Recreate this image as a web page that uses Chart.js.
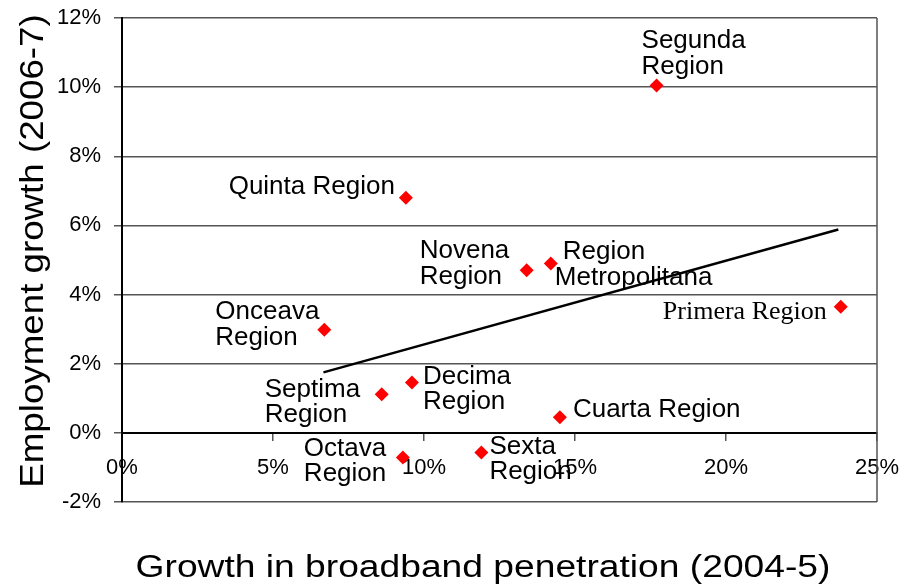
<!DOCTYPE html>
<html>
<head>
<meta charset="utf-8">
<script src="https://cdn.jsdelivr.net/npm/chart.js@4.4.0/dist/chart.umd.min.js"></script>
<style>
  html, body { margin: 0; padding: 0; background: #fff; }
</style>
</head>
<body>
<canvas id="chart" width="904" height="586"></canvas>
<script>
// values
const regionLabels = ['Segunda\nRegion', 'Quinta Region', 'Novena\nRegion', 'Region\nMetropolitana', 'Primera Region',
  'Onceava\nRegion', 'Septima\nRegion', 'Decima\nRegion', 'Octava\nRegion', 'Sexta\nRegion', 'Cuarta Region'];
const broadbandGrowth = [17.7, 9.4, 13.4, 14.2, 23.8, 6.7, 8.6, 9.6, 9.3, 11.9, 14.5];
const employmentGrowth = [10.05, 6.8, 4.7, 4.9, 3.65, 2.98, 1.12, 1.46, -0.71, -0.57, 0.45];
const trendX = [6.67, 23.72];
const trendY = [1.75, 5.88];
const xTickValues = [0, 5, 10, 15, 20, 25];
const yTickValues = [-2, 0, 2, 4, 6, 8, 10, 12];
const xTitle = 'Growth in broadband penetration (2004-5)';
const yTitle = 'Employment growth (2006-7)';

// where each label sits relative to its marker (px), one entry per line
const labelLayout = [
  { align: 'left', dx: [-15, -15], dy: [-37, -11] },
  { align: 'right', dx: [-11], dy: [-4] },
  { align: 'left', dx: [-107, -107], dy: [-12, 14] },
  { align: 'left', dx: [12, 4], dy: [-4, 22] },
  { align: 'right', dx: [-14], dy: [12], serif: true },
  { align: 'left', dx: [-109, -109], dy: [-11, 15] },
  { align: 'left', dx: [-117, -117], dy: [3, 28] },
  { align: 'left', dx: [11, 11], dy: [2, 27] },
  { align: 'left', dx: [-99, -99], dy: [-1, 24] },
  { align: 'left', dx: [8, 8], dy: [1, 26] },
  { align: 'left', dx: [13], dy: [0] },
];

const SANS = '"Liberation Sans", Arial, sans-serif';
const SERIF = '"Liberation Serif", "Times New Roman", serif';
Chart.defaults.font.family = SANS;
Chart.defaults.color = '#000';

const pointLabels = {
  id: 'pointLabels',
  beforeDatasetsDraw(chart) {
    const { ctx, scales: { x, y } } = chart;
    ctx.save();
    ctx.fillStyle = '#000';
    ctx.textBaseline = 'alphabetic';
    regionLabels.forEach((txt, i) => {
      const lay = labelLayout[i];
      const px = x.getPixelForValue(broadbandGrowth[i]);
      const py = y.getPixelForValue(employmentGrowth[i]);
      ctx.font = '26px ' + (lay.serif ? SERIF : SANS);
      ctx.textAlign = lay.align;
      txt.split('\n').forEach((line, j) => {
        ctx.fillText(line, px + lay.dx[j], py + lay.dy[j]);
      });
    });
    ctx.restore();
  },
  afterDraw(chart) {
    const { ctx, chartArea: a } = chart;
    ctx.save();
    // right side of the plot frame
    ctx.strokeStyle = '#555';
    ctx.lineWidth = 1.5;
    ctx.beginPath();
    ctx.moveTo(a.right, a.top);
    ctx.lineTo(a.right, a.bottom);
    ctx.stroke();

    // axis titles
    ctx.fillStyle = '#000';
    ctx.textAlign = 'center';
    ctx.textBaseline = 'alphabetic';
    ctx.save();
    ctx.translate(483, 577);
    ctx.scale(1.2, 1);
    ctx.font = '31px ' + SANS;
    ctx.fillText(xTitle, 0, 0);
    ctx.restore();

    ctx.save();
    ctx.translate(43, 251);
    ctx.rotate(-Math.PI / 2);
    ctx.scale(1.08, 1);
    ctx.font = '34px ' + SANS;
    ctx.fillText(yTitle, 0, 0);
    ctx.restore();
    ctx.restore();
  }
};

new Chart(document.getElementById('chart'), {
  type: 'scatter',
  data: {
    datasets: [
      {
        label: 'Regions',
        data: broadbandGrowth.map((v, i) => ({ x: v, y: employmentGrowth[i] })),
        pointStyle: 'rectRot',
        pointRadius: 7,
        backgroundColor: '#ff0000',
        borderColor: '#ff0000',
        borderWidth: 0,
      },
      {
        label: 'Trend',
        data: trendX.map((v, i) => ({ x: v, y: trendY[i] })),
        showLine: true,
        borderColor: '#000',
        borderWidth: 2.5,
        pointRadius: 0,
      },
    ],
  },
  options: {
    responsive: false,
    animation: false,
    layout: { padding: { left: 0, right: 27, top: 18, bottom: 84 } },
    plugins: { legend: { display: false }, tooltip: { enabled: false } },
    scales: {
      x: {
        type: 'linear',
        min: 0,
        max: 25,
        position: { y: 0 },
        afterBuildTicks: (s) => { s.ticks = xTickValues.map((v) => ({ value: v })); },
        afterFit: (s) => { s.paddingLeft = 0; s.paddingRight = 0; },
        ticks: { callback: (v) => v + '%', font: { size: 22 }, padding: 15, maxRotation: 0, autoSkip: false },
        grid: { drawOnChartArea: false, drawTicks: true, tickLength: 7, color: '#555', lineWidth: 1.5 },
        border: { display: true, color: '#000', width: 2 },
      },
      y: {
        type: 'linear',
        min: -2,
        max: 12,
        afterBuildTicks: (s) => { s.ticks = yTickValues.map((v) => ({ value: v })); },
        afterFit: (s) => { s.width = 122; s.paddingTop = 0; s.paddingBottom = 0; },
        ticks: { callback: (v) => v + '%', font: { size: 22 }, padding: 13, autoSkip: false },
        grid: { color: '#555', lineWidth: 1.5, drawTicks: true, tickLength: 8 },
        border: { display: true, color: '#000', width: 2 },
      },
    },
  },
  plugins: [pointLabels],
});
</script>
</body>
</html>
